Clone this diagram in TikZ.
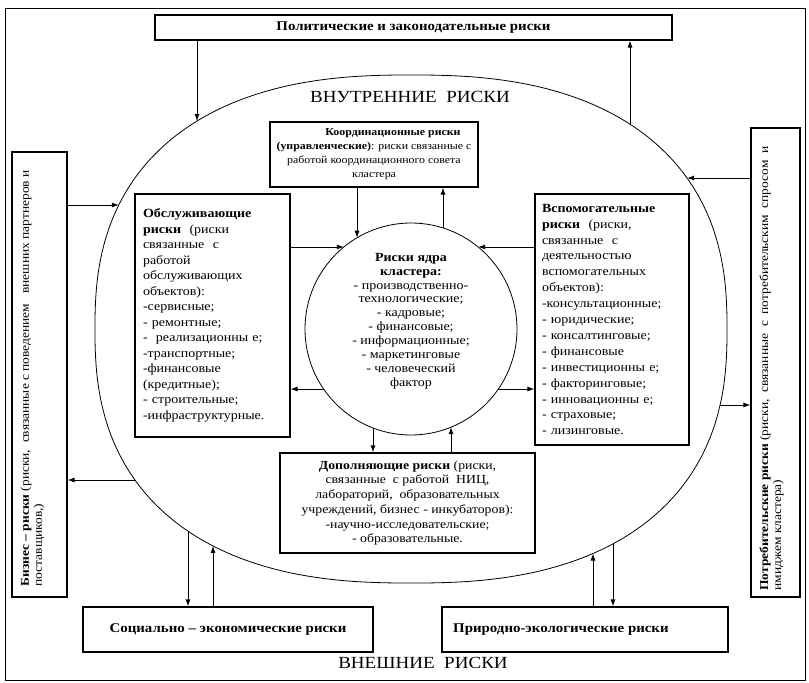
\documentclass[tikz,border=0pt]{standalone}
\usepackage{fontspec}
\setmainfont[FakeStretch=1.12]{Liberation Serif}
\usetikzlibrary{arrows.meta,intersections}
\begin{document}
\begin{tikzpicture}[x=1pt,y=-1pt,
  box/.style={draw, line width=1.1pt, inner sep=0pt},
  conn/.style={line width=0.9pt},
  arr/.style={conn, -{Latex[length=7pt,width=5pt]}},
  boxtext/.style={font=\fontsize{12.5}{15.5}\selectfont},
  sidetext/.style={font=\fontsize{12}{13}\selectfont},
  bigbold/.style={font=\fontsize{13.3}{15}\selectfont\bfseries},
  title/.style={font=\fontsize{17}{20}\selectfont}]
\useasboundingbox (0,0) rectangle (809,683);
\node[draw, line width=0.8pt, minimum width=800, minimum height=672, inner sep=0pt] (frame) at (405,344) {};
% big rounded "ellipse" (superellipse)
\draw[name path=E, line width=0.8pt] plot[domain=1:359, samples=180, smooth cycle, variable=\t]
  ({411+316*sign(cos(\t))*pow(abs(cos(\t)),0.82)}, {329+254*sign(sin(\t))*pow(abs(sin(\t)),0.82)});
\path[name path=C] (411,329) circle [radius=106];
\node[draw, circle, line width=0.8pt, minimum size=212, inner sep=0pt] (core) at (411,329) {};
\node[align=center, font=\fontsize{12.5}{13.9}\selectfont] (coretext) at (411,321) {\textbf{Риски ядра}\\\textbf{кластера:}\\- производственно-\\технологические;\\- кадровые;\\- финансовые;\\- информационные;\\- маркетинговые\\- человеческий\\фактор};
% titles
\node[title] (inner) at (410,97) {ВНУТРЕННИЕ\ \ РИСКИ};
\node[title] (outer) at (423,663) {ВНЕШНИЕ\ \ РИСКИ};
% outer boxes
\node[box, minimum width=517, minimum height=25, bigbold] (pol) at (413.5,27.5) {Политические и законодательные риски};
\node[box, minimum width=290, minimum height=45, bigbold] (soc) at (228,629.5) {Социально -- экономические риски};
\node[box, minimum width=286, minimum height=45] (nat) at (585,629.5) {};
\node[bigbold, anchor=west, inner sep=0pt] (nattext) at (453,629.5) {Природно-экологические риски};
\node[box, minimum width=445, minimum height=55, rotate=90] (bus) at (39.5,374.5) {};
\node[sidetext, rotate=90, anchor=north west, align=left] (bustext) at (17,590) {\textbf{Бизнес -- риски} (риски,\ \ связанные с поведением\ \ \ внешних партнеров и\\поставщиков,)};
\node[box, minimum width=469, minimum height=49, rotate=90] (cons) at (775.5,362.5) {};
\node[sidetext, rotate=90, anchor=north west, align=left] (constext) at (756,594) {\textbf{Потребительские риски} (риски,\ \ связанные\ \ с\ \ потребительским\ \ спросом\ \ и\\имиджем кластера)};
% inner boxes
\node[box, minimum width=208, minimum height=65, align=center, font=\fontsize{10.6}{14}\selectfont] (coord) at (374,154.5) {\hspace*{38pt}\textbf{Координационные риски}\\\textbf{(управленческие)}: риски связанные с\\работой координационного совета\\кластера};
\node[box, minimum width=155, minimum height=243, text width=139, align=left, boxtext] (serv) at (212.5,315.5) {\textbf{Обслуживающие}\\\textbf{риски}\ \ (риски\\связанные\ \ с\\работой\\обслуживающих\\объектов):\\-сервисные;\\- ремонтные;\\-\ \ реализационны е;\\-транспортные;\\-финансовые\\(кредитные);\\- строительные;\\-инфраструктурные.};
\node[box, minimum width=154, minimum height=251, text width=140, align=left, font=\fontsize{12.5}{15.9}\selectfont] (aux) at (612,319.5) {\textbf{Вспомогательные}\\\textbf{риски}\ \ (риски,\\связанные\ \ с\\деятельностью\\вспомогательных\\объектов):\\-консультационные;\\- юридические;\\- консалтинговые;\\- финансовые\\- инвестиционны е;\\- факторинговые;\\- инновационны е;\\- страховые;\\- лизинговые.};
\node[box, minimum width=255, minimum height=100, align=center, font=\fontsize{12.3}{14.7}\selectfont] (add) at (407.5,503) {\textbf{Дополняющие риски} (риски,\\связанные\ \ с работой\ \ НИЦ,\\лабораторий,\ \ образовательных\\учреждений, бизнес - инкубаторов):\\-научно-исследовательские;\\- образовательные.};
% intersection helpers (outer)
\path[name path=v1] (197,40) -- (197,329);
\path[name intersections={of=E and v1, by={e1}}];
\path[name path=v2] (630,40) -- (630,329);
\path[name intersections={of=E and v2, by={e2}}];
\path[name path=h1] (67,205) -- (411,205);
\path[name intersections={of=E and h1, by={e3}}];
\path[name path=h2] (67,480) -- (411,480);
\path[name intersections={of=E and h2, by={e4}}];
\path[name path=h3] (751,178) -- (411,178);
\path[name intersections={of=E and h3, by={e5}}];
\path[name path=h4] (751,405) -- (411,405);
\path[name intersections={of=E and h4, by={e6}}];
\path[name path=v3] (188,607) -- (188,329);
\path[name intersections={of=E and v3, by={e7}}];
\path[name path=v4] (213,607) -- (213,329);
\path[name intersections={of=E and v4, by={e8}}];
\path[name path=v5] (593,607) -- (593,329);
\path[name intersections={of=E and v5, by={e9}}];
\path[name path=v6] (613,607) -- (613,329);
\path[name intersections={of=E and v6, by={e10}}];
% inner
\path[name path=h5] (290,247) -- (411,247);
\path[name intersections={of=C and h5, by={c1}}];
\path[name path=h6] (290,389) -- (411,389);
\path[name intersections={of=C and h6, by={c2}}];
\path[name path=h7] (535,247) -- (411,247);
\path[name intersections={of=C and h7, by={c3}}];
\path[name path=h8] (535,389) -- (411,389);
\path[name intersections={of=C and h8, by={c4}}];
\path[name path=v7] (357,187) -- (357,329);
\path[name intersections={of=C and v7, by={c5}}];
\path[name path=v8] (443,187) -- (443,329);
\path[name intersections={of=C and v8, by={c6}}];
\path[name path=v9] (373,453) -- (373,329);
\path[name intersections={of=C and v9, by={c7}}];
\path[name path=v10] (451,453) -- (451,329);
\path[name intersections={of=C and v10, by={c8}}];
% outer connectors
\draw[arr] (pol.south -| e1) -- (e1);
\draw[arr] (e2) -- (pol.south -| e2);
\draw[arr] (bus.south |- e3) -- (e3);
\draw[arr] (e4) -- (bus.south |- e4);
\draw[arr] (cons.north |- e5) -- (e5);
\draw[arr] (e6) -- (cons.north |- e6);
\draw[arr] (e7) -- (soc.north -| e7);
\draw[arr] (soc.north -| e8) -- (e8);
\draw[arr] (nat.north -| e9) -- (e9);
\draw[arr] (e10) -- (nat.north -| e10);
% inner connectors
\draw[arr] (serv.east |- c1) -- (c1);
\draw[arr] (c2) -- (serv.east |- c2);
\draw[arr] (aux.west |- c3) -- (c3);
\draw[arr] (c4) -- (aux.west |- c4);
\draw[arr] (coord.south -| c5) -- (c5);
\draw[arr] (c6) -- (coord.south -| c6);
\draw[arr] (c7) -- (add.north -| c7);
\draw[arr] (add.north -| c8) -- (c8);
\end{tikzpicture}
\end{document}
